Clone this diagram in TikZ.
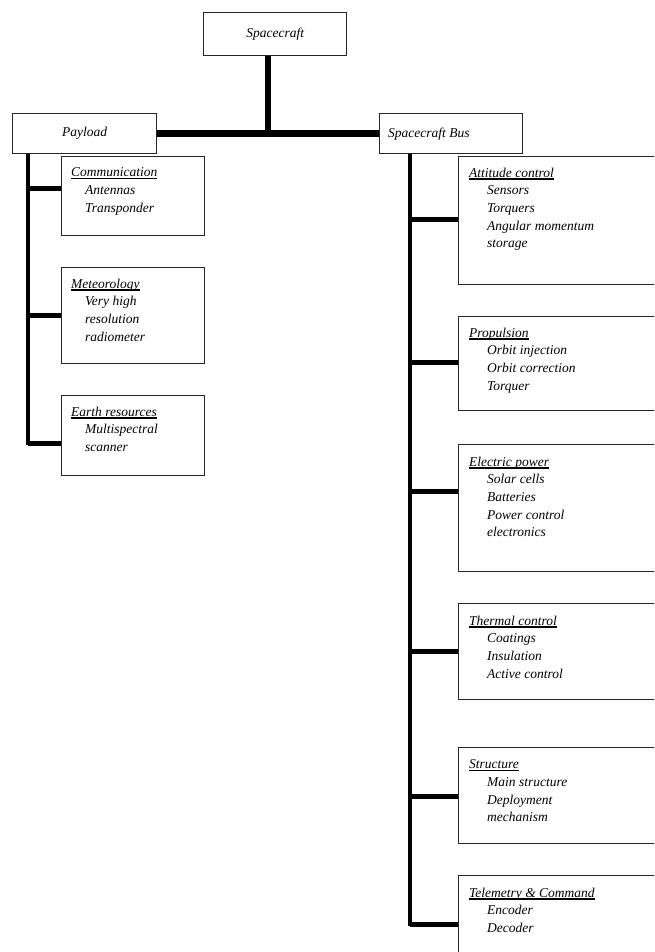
\documentclass[tikz,border=0pt]{standalone}
\usepackage{fontspec}
\setmainfont{Liberation Serif}
\usetikzlibrary{calc}
\newcommand\ttl[1]{\leavevmode\setbox0\hbox{#1}\rlap{\rule[-2.6pt]{\wd0}{1.2pt}}\box0}
\begin{document}
\begin{tikzpicture}[x=1pt,y=-1pt,
  box/.style={draw=black!85, line width=1.3pt, fill=white, inner sep=0pt, anchor=north west},
  cbox/.style={draw=black!85, line width=1.3pt, fill=white, inner sep=0pt, anchor=north west,
    font=\fontsize{13.5}{17.7}\selectfont\itshape},
  txt/.style={anchor=north west, inner sep=0pt, align=left, font=\fontsize{13.5}{17.7}\selectfont\itshape},
  bar/.style={line width=7.5pt},
  stem/.style={line width=6pt},
  trunk/.style={line width=4.5pt},
  branch/.style={line width=5pt}]
\useasboundingbox (0,0) rectangle (654,952);
\clip (0,0) rectangle (654,952);
\fill[white] (0,0) rectangle (654,952);

% top level boxes
\node[cbox, minimum width=143pt, minimum height=43pt] (sc) at (203,12) {Spacecraft};
\node[cbox, minimum width=144pt, minimum height=40pt] (pl) at (12,113) {Payload};
\node[box, minimum width=143pt, minimum height=40pt] (bus) at (379,113) {};
\node[txt, anchor=west] (bust) at ($(bus.west)+(9,1)$) {Spacecraft Bus};

% payload children
\node[box, minimum width=143pt, minimum height=79pt] (comm) at (61,156) {};
\node[box, minimum width=143pt, minimum height=96pt] (met) at (61,267) {};
\node[box, minimum width=143pt, minimum height=80pt] (earth) at (61,395) {};

% bus children
\node[box, minimum width=220pt, minimum height=128pt] (att) at (458,156) {};
\node[box, minimum width=220pt, minimum height=94pt] (prop) at (458,316) {};
\node[box, minimum width=220pt, minimum height=127pt] (elec) at (458,444) {};
\node[box, minimum width=220pt, minimum height=96pt] (therm) at (458,603) {};
\node[box, minimum width=220pt, minimum height=96pt] (struc) at (458,747) {};
\node[box, minimum width=220pt, minimum height=120pt] (tele) at (458,875) {};

% texts
\node[txt] (commt) at ($(comm.north west)+(10,11.5)$) {\ttl{Communication}\\\hspace*{14pt}Antennas\\\hspace*{14pt}Transponder};
\node[txt] (mett) at ($(met.north west)+(10,11.5)$) {\ttl{Meteorology}\\\hspace*{14pt}Very high\\\hspace*{14pt}resolution\\\hspace*{14pt}radiometer};
\node[txt] (eartht) at ($(earth.north west)+(10,11.5)$) {\ttl{Earth resources}\\\hspace*{14pt}Multispectral\\\hspace*{14pt}scanner};
\node[txt] (attt) at ($(att.north west)+(11,11.5)$) {\ttl{Attitude control}\\\hspace*{18pt}Sensors\\\hspace*{18pt}Torquers\\\hspace*{18pt}Angular momentum\\\hspace*{18pt}storage};
\node[txt] (propt) at ($(prop.north west)+(11,11.5)$) {\ttl{Propulsion}\\\hspace*{18pt}Orbit injection\\\hspace*{18pt}Orbit correction\\\hspace*{18pt}Torquer};
\node[txt] (elect) at ($(elec.north west)+(11,12.5)$) {\ttl{Electric power}\\\hspace*{18pt}Solar cells\\\hspace*{18pt}Batteries\\\hspace*{18pt}Power control\\\hspace*{18pt}electronics};
\node[txt] (thermt) at ($(therm.north west)+(11,12.5)$) {\ttl{Thermal control}\\\hspace*{18pt}Coatings\\\hspace*{18pt}Insulation\\\hspace*{18pt}Active control};
\node[txt] (struct) at ($(struc.north west)+(11,12.5)$) {\ttl{Structure}\\\hspace*{18pt}Main structure\\\hspace*{18pt}Deployment\\\hspace*{18pt}mechanism};
\node[txt] (telet) at ($(tele.north west)+(11,12.5)$) {\ttl{Telemetry \& Command}\\\hspace*{18pt}Encoder\\\hspace*{18pt}Decoder};

% connection points
\coordinate (scb) at ($(sc.south)+(-7,0)$);
\coordinate (pv) at ($(pl.south west)+(16,0)$);
\coordinate (bv) at ($(bus.south west)+(31,0)$);
\coordinate (c1) at ($(comm.north west)+(0,32)$);
\coordinate (c2) at ($(met.north west)+(0,48)$);
\coordinate (c3) at ($(earth.north west)+(0,48)$);
\coordinate (d1) at ($(att.north west)+(0,63)$);
\coordinate (d2) at ($(prop.north west)+(0,46)$);
\coordinate (d3) at ($(elec.north west)+(0,47)$);
\coordinate (d4) at ($(therm.north west)+(0,48)$);
\coordinate (d5) at ($(struc.north west)+(0,49)$);
\coordinate (d6) at ($(tele.north west)+(0,49)$);

% connectors
\draw[bar] (pl.east) -- (bus.west);
\draw[stem] (scb) -- (scb |- pl.east);
\draw[trunk] (pv) |- (c3);
\draw[branch] (pv |- c1) -- (c1);
\draw[branch] (pv |- c2) -- (c2);
\draw[branch] (pv |- c3) -- (c3);
\draw[trunk] (bv) |- (d6);
\draw[branch] (bv |- d1) -- (d1);
\draw[branch] (bv |- d2) -- (d2);
\draw[branch] (bv |- d3) -- (d3);
\draw[branch] (bv |- d4) -- (d4);
\draw[branch] (bv |- d5) -- (d5);
\draw[branch] (bv |- d6) -- (d6);
\end{tikzpicture}
\end{document}
